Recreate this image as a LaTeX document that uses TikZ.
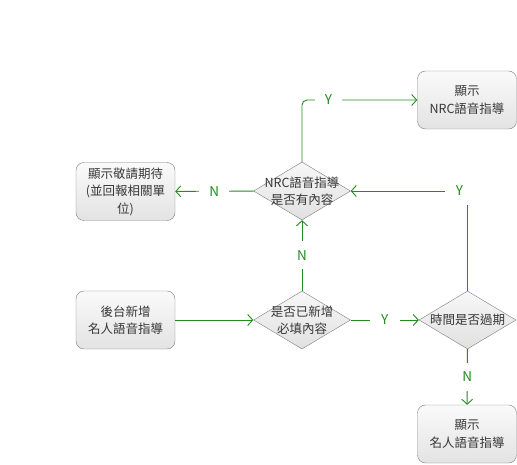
\documentclass[tikz,border=0pt]{standalone}
\usepackage{fontspec}
\setmainfont{Noto Sans CJK TC}
\usetikzlibrary{shapes.geometric,arrows.meta}
\definecolor{flowgreen}{RGB}{34,139,34}
\definecolor{boxline}{RGB}{125,125,125}
\definecolor{boxtext}{RGB}{55,55,55}
\tikzset{
	box/.style={draw=boxline, rounded corners=8pt, top color=gray!4, bottom color=gray!22,
		minimum width=99pt, minimum height=58pt, align=center, text=boxtext, inner sep=2pt},
	decide/.style={diamond, draw=boxline, top color=gray!6, bottom color=gray!24,
		minimum width=97pt, minimum height=58pt, inner sep=0pt},
	decidetext/.style={align=center, text=boxtext, inner sep=0pt},
	flow/.style={flowgreen, line width=0.9pt, -{Straight Barb[length=5pt,width=11pt]}},
	yn/.style={fill=white, text=flowgreen, inner sep=0pt, minimum width=30pt, minimum height=28pt,
		font=\fontsize{13.5}{16}\selectfont}
}
\begin{document}
\begin{tikzpicture}[x=1pt, y=-1pt, font=\fontsize{12.5}{17.5}\selectfont]
	\useasboundingbox (0,0) rectangle (517,465);
	\node[box] (backend) at (125.5,320) {後台新增\\名人語音指導};
	\node[decide, label={[decidetext]center:{是否已新增\\必填內容}}] (added) at (302,320) {};
	\node[decide, label={[decidetext]center:{時間是否過期}}] (expired) at (467.5,320) {};
	\node[box] (showcelebrity) at (467,434) {顯示\\名人語音指導};
	\node[decide, label={[decidetext]center:{NRC語音指導\\是否有內容}}] (hasnrc) at (302,191) {};
	\node[box] (comingsoon) at (125.5,191.5) {顯示敬請期待\\(並回報相關單\\位)};
	\node[box] (shownrc) at (467,100) {顯示\\NRC語音指導};
	% green connectors
	\draw[flow] (backend) -- (added);
	\draw[flow] (added) -- node[yn] (addedyes) {Y} (expired);
	\draw[flow] (expired) -- node[yn] (expiredno) {N} (showcelebrity);
	\draw[flow] (expired) |- node[yn, pos=0.5, xshift=-8pt] (expiredyes) {Y} (hasnrc);
	\draw[flow] (added) -- node[yn] (addedno) {N} (hasnrc);
	\draw[flow] (hasnrc) -- node[yn] (hasnrcno) {N} (comingsoon);
	\draw[flow, rounded corners=5pt] (hasnrc.north) |- node[yn, pos=0.615, minimum width=27pt] (hasnrcyes) {Y} (shownrc.west);
\end{tikzpicture}
\end{document}
